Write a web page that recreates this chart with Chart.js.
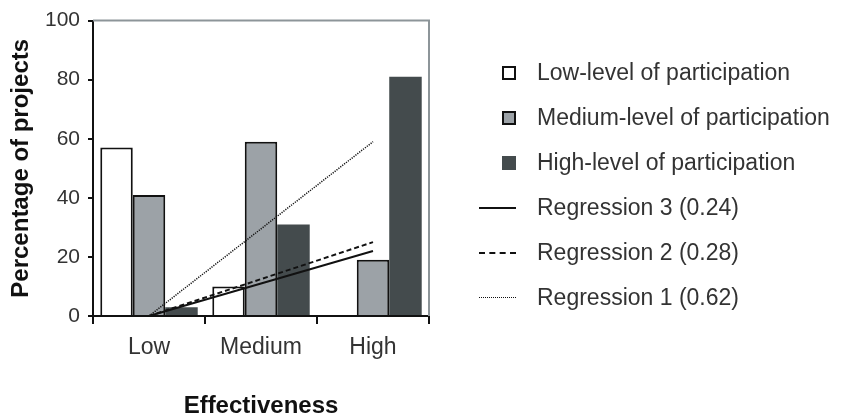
<!DOCTYPE html>
<html>
<head>
<meta charset="utf-8">
<script src="https://cdn.jsdelivr.net/npm/chart.js@4/dist/chart.umd.min.js"></script>
<style>
  html, body { margin: 0; padding: 0; background: #fff; }
  #wrap { position: relative; width: 841px; height: 416px; }
  #legende { position: absolute; left: 470px; top: 50px; font-family: "Liberation Sans", Arial, sans-serif; font-size: 23px; color: #333; }
  .ligne { display: flex; align-items: center; height: 45px; white-space: nowrap; }
  .symbole { width: 67px; display: flex; justify-content: flex-end; padding-right: 21px; box-sizing: border-box; }
  .carre { width: 14px; height: 14px; box-sizing: border-box; }
  .trait { width: 37px; height: 0; }
</style>
</head>
<body>
<div id="wrap">
  <canvas id="graphique" width="841" height="416"></canvas>
  <div id="legende"></div>
</div>
<script>
// Données
const categories = ['Low', 'Medium', 'High'];
const barLabels = ['Low-level of participation', 'Medium-level of participation', 'High-level of participation'];
const lowLevel = [57, 10, 0];
const mediumLevel = [41, 59, 19];
const highLevel = [3, 31, 81];
const regLabels = ['Regression 3 (0.24)', 'Regression 2 (0.28)', 'Regression 1 (0.62)'];
const regression3 = [0, 11, 22];
const regression2 = [0, 12.5, 25];
const regression1 = [0, 29.5, 59];
const yTicks = [0, 20, 40, 60, 80, 100];

const couleurs = ['#ffffff', '#9ca2a7', '#444b4d'];
const bordures = ['#111', '#111', '#444b4d'];
const tirets = [[], [5, 3], [1.2, 1.2]];
const largeurs = [2, 2, 1.5];

const police = "'Liberation Sans', Arial, sans-serif";

// Cadre gris en haut et à droite
const cadrePlugin = {
  id: 'cadre',
  afterDraw(chart) {
    const a = chart.chartArea;
    const ctx = chart.ctx;
    ctx.save();
    ctx.strokeStyle = '#8d9599';
    ctx.lineWidth = 2;
    ctx.beginPath();
    ctx.moveTo(a.left, a.top);
    ctx.lineTo(a.right, a.top);
    ctx.lineTo(a.right, a.bottom);
    ctx.stroke();
    ctx.restore();
  }
};

const barSeries = [lowLevel, mediumLevel, highLevel];
const regSeries = [regression3, regression2, regression1];

const datasets = [];
barSeries.forEach((serie, i) => {
  datasets.push({
    type: 'bar',
    label: barLabels[i],
    data: serie,
    backgroundColor: couleurs[i],
    borderColor: bordures[i],
    borderWidth: i < 2 ? 2 : 0,
    categoryPercentage: 0.87,
    barPercentage: 1,
    order: 1
  });
});
regSeries.forEach((serie, i) => {
  datasets.push({
    type: 'line',
    label: regLabels[i],
    data: serie,
    borderColor: '#111',
    borderWidth: largeurs[i],
    borderDash: tirets[i],
    pointRadius: 0,
    tension: 0,
    fill: false,
    order: 0
  });
});

const ctx = document.getElementById('graphique').getContext('2d');
new Chart(ctx, {
  type: 'bar',
  data: { labels: categories, datasets: datasets },
  options: {
    responsive: false,
    animation: false,
    layout: { padding: { left: 9, top: 17, right: 412, bottom: 0 } },
    plugins: { legend: { display: false }, tooltip: { enabled: false } },
    scales: {
      x: {
        offset: true,
        grid: { offset: true, drawOnChartArea: false, tickLength: 8, color: '#111', lineWidth: 2 },
        border: { color: '#111', width: 2 },
        ticks: { color: '#333', font: { family: police, size: 23 }, padding: 10 },
        title: { display: true, text: 'Effectiveness', color: '#111', font: { family: police, size: 24, weight: 'bold', lineHeight: 0.84 }, padding: 0 },
        afterFit(scale) { scale.height = 100; }
      },
      y: {
        min: 0,
        max: 100,
        afterBuildTicks(scale) { scale.ticks = yTicks.map(v => ({ value: v })); },
        grid: { drawOnChartArea: false, tickLength: 5, color: '#111', lineWidth: 2 },
        border: { color: '#111', width: 2 },
        ticks: { color: '#333', font: { family: police, size: 21 }, padding: 8 },
        title: { display: true, text: 'Percentage of projects', color: '#111', font: { family: police, size: 24, weight: 'bold', lineHeight: 1 }, padding: 0 },
        afterFit(scale) { scale.width = 84; }
      }
    }
  },
  plugins: [cadrePlugin]
});

// Légende à droite
const legende = document.getElementById('legende');
barLabels.forEach((nom, i) => {
  const ligne = document.createElement('div');
  ligne.className = 'ligne';
  const sym = document.createElement('div');
  sym.className = 'symbole';
  const carre = document.createElement('div');
  carre.className = 'carre';
  carre.style.background = couleurs[i];
  carre.style.border = i < 2 ? '2px solid #111' : 'none';
  sym.appendChild(carre);
  const txt = document.createElement('span');
  txt.textContent = nom;
  ligne.appendChild(sym);
  ligne.appendChild(txt);
  legende.appendChild(ligne);
});
const stylesTrait = ['2px solid #111', '2px dashed #111', '1px dotted #111'];
regLabels.forEach((nom, i) => {
  const ligne = document.createElement('div');
  ligne.className = 'ligne';
  const sym = document.createElement('div');
  sym.className = 'symbole';
  const trait = document.createElement('div');
  trait.className = 'trait';
  trait.style.borderTop = stylesTrait[i];
  sym.appendChild(trait);
  const txt = document.createElement('span');
  txt.textContent = nom;
  ligne.appendChild(sym);
  ligne.appendChild(txt);
  legende.appendChild(ligne);
});
</script>
</body>
</html>
